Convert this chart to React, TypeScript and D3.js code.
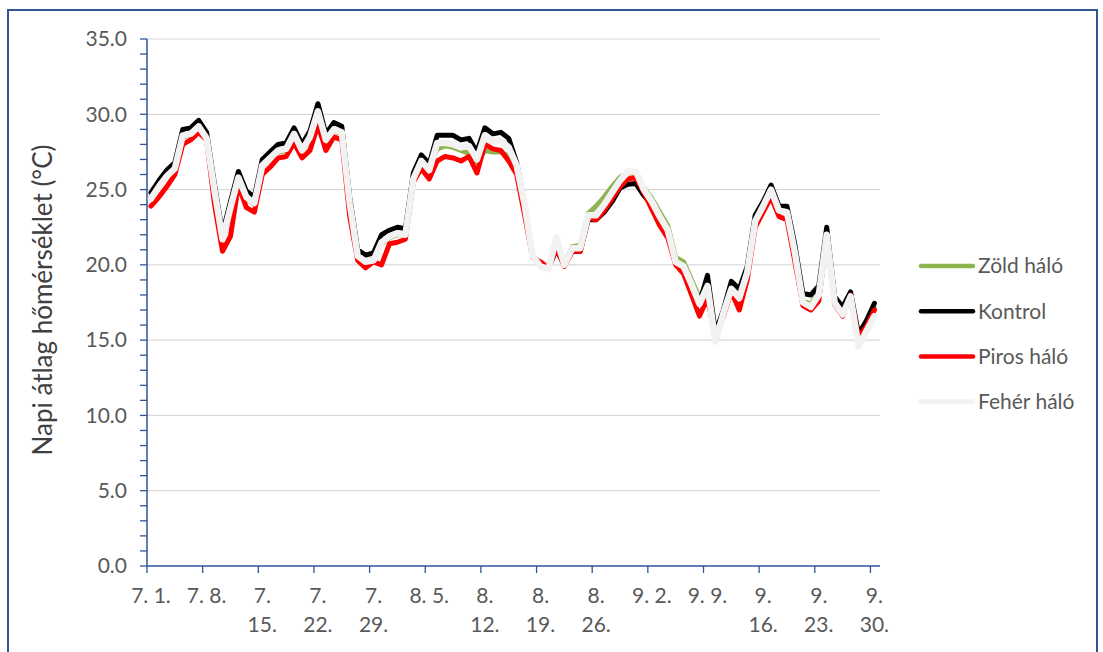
import React from "react";
import * as d3 from "d3";

const tickLabels: string[][] = [
  ["7. 1."], ["7. 8."], ["7.", "15."], ["7.", "22."], ["7.", "29."], ["8. 5."], ["8.", "12."],
  ["8.", "19."], ["8.", "26."], ["9. 2."], ["9. 9."], ["9.", "16."], ["9.", "23."], ["9.", "30."],
];
const tickDays: number[] = [0, 7, 14, 21, 28, 35, 42, 49, 56, 63, 70, 77, 84, 91];
const yTicks: number[] = [0, 5, 10, 15, 20, 25, 30, 35];

const kontrol: number[] = [
  24.8, 25.6, 26.3, 26.8, 29.0, 29.1, 29.6, 28.8, 25.3, 22.1,
  24.2, 26.2, 24.9, 24.5, 27.0, 27.5, 28.0, 28.1, 29.1, 28.0,
  28.9, 30.7, 28.7, 29.45, 29.2, 24.5, 21.0, 20.65, 20.8, 22.0,
  22.3, 22.5, 22.4, 26.1, 27.3, 26.7, 28.6, 28.6, 28.6, 28.3,
  28.4, 27.5, 29.1, 28.7, 28.8, 28.4, 26.8, 24.0, 20.6, 20.0,
  19.8, 21.0, 20.0, 20.9, 20.9, 23.0, 23.0, 23.5, 24.2, 25.1,
  25.35, 25.4, 24.6, 24.0, 23.0, 22.0, 20.2, 19.8, 18.6, 17.5,
  19.3, 15.5, 17.0, 18.9, 18.4, 19.9, 23.3, 24.2, 25.3, 23.9,
  23.9, 21.3, 18.1, 18.0, 18.6, 22.5, 17.9, 17.2, 18.2, 15.4,
  16.3, 17.45,
];

const piros: number[] = [
  23.9, 24.5, 25.2, 26.0, 28.0, 28.3, 28.8, 28.3, 24.0, 20.9,
  21.9, 25.3, 23.8, 23.5, 26.0, 26.5, 27.1, 27.2, 28.1, 27.1,
  27.6, 29.3, 27.6, 28.5, 28.3, 23.2, 20.3, 19.8, 20.2, 20.0,
  21.4, 21.5, 21.7, 25.5, 26.4, 25.7, 26.9, 27.2, 27.1, 26.9,
  27.2, 26.1, 28.0, 27.7, 27.6, 26.9, 26.0, 23.3, 20.5, 20.2,
  19.8, 21.1, 19.9, 20.9, 20.9, 23.1, 23.0, 23.6, 24.4, 25.2,
  25.7, 25.8, 24.8, 23.7, 22.6, 21.8, 20.0, 19.4, 18.0, 16.6,
  17.8, 15.3, 16.6, 18.2, 17.0, 19.0, 22.5, 23.5, 24.5, 23.2,
  23.0, 20.2, 17.3, 17.0, 17.6, 21.9, 17.4, 16.6, 18.0, 15.2,
  15.9, 17.0,
];

const feher: number[] = [
  24.4, 25.2, 25.9, 26.4, 28.6, 28.7, 29.2, 28.4, 24.9, 21.7,
  23.8, 25.8, 24.5, 24.1, 26.6, 27.1, 27.6, 27.7, 28.7, 27.6,
  28.5, 30.2, 28.3, 29.0, 28.8, 24.1, 20.6, 20.2, 20.3, 21.5,
  21.9, 22.1, 22.0, 25.7, 26.9, 26.3, 28.1, 28.1, 28.0, 27.8,
  27.9, 27.0, 28.6, 28.2, 28.3, 27.8, 26.6, 24.0, 20.6, 19.9,
  19.7, 21.8, 20.0, 21.1, 21.1, 23.3, 23.3, 24.0, 24.8, 25.6,
  26.2, 26.2, 25.0, 24.2, 23.2, 22.3, 20.2, 19.9, 18.7, 17.4,
  18.6, 14.9, 16.8, 18.4, 17.8, 19.5, 22.9, 23.9, 25.0, 23.6,
  23.5, 20.8, 17.5, 17.2, 18.0, 22.0, 17.5, 16.7, 17.9, 14.6,
  15.6, 16.6,
];

const zold: number[] = [
  24.5, 25.2, 25.9, 26.4, 28.5, 28.6, 29.1, 28.4, 24.8, 21.6,
  23.6, 25.7, 24.4, 24.0, 26.5, 27.1, 27.5, 27.6, 28.6, 27.5,
  28.4, 30.1, 28.2, 28.9, 28.7, 24.0, 20.6, 20.2, 20.4, 21.4,
  21.8, 22.0, 22.0, 25.8, 26.9, 26.6, 27.7, 27.9, 27.8, 27.6,
  27.4, 26.8, 27.6, 27.5, 27.5, 27.2, 26.3, 23.8, 20.6, 20.0,
  19.8, 21.5, 20.1, 21.2, 21.3, 23.4, 23.9, 24.5, 25.2, 25.8,
  26.1, 26.1, 25.1, 24.4, 23.5, 22.6, 20.5, 20.2, 19.0, 17.8,
  18.8, 15.2, 16.9, 18.5, 17.8, 19.7, 23.0, 24.0, 25.1, 23.5,
  23.6, 21.0, 17.6, 17.4, 18.2, 22.1, 17.6, 16.9, 18.0, 14.8,
  15.7, 17.1,
];

const seriesNames = ["Zöld háló", "Kontrol", "Piros háló", "Fehér háló"];
const seriesColors = ["#8DB451", "#000000", "#FF0000", "#F2F2F2"];
const seriesData = [zold, kontrol, piros, feher];
const seriesWidths = [5, 5, 5, 6.5];

const W = 1103;
const H = 652;
const FONT = "Lato, 'Open Sans', sans-serif";
const AXIS = "#2F5597";
const TEXT = "#595959";

export default function App() {
  const x = d3.scaleLinear().domain([0, 92]).range([147, 878.4]);
  const y = d3.scaleLinear().domain([0, 35]).range([566, 39]);
  const line = d3
    .line<number>()
    .x((_, i) => x(i + 0.5))
    .y((v) => y(v));
  const minor = d3.range(0, 36, 1);

  return (
    <svg
      width={W}
      height={H}
      style={{ position: "absolute", left: 0, top: 0, background: "#fff" }}
      fontFamily={FONT}
    >
      <rect x={8} y={10} width={1089} height={670} fill="#fff" stroke="#2F5597" strokeWidth={2} />
      {yTicks.slice(1).map((t) => (
        <line key={"g" + t} x1={147} x2={880} y1={y(t)} y2={y(t)} stroke="#D9D9D9" strokeWidth={1.2} />
      ))}
      {minor.map((t) => (
        <line key={"m" + t} x1={140} x2={147} y1={y(t)} y2={y(t)} stroke={AXIS} strokeWidth={1.3} />
      ))}
      <line x1={147} x2={147} y1={y(35)} y2={y(0)} stroke={AXIS} strokeWidth={1.5} />
      <line x1={147} x2={880} y1={y(0)} y2={y(0)} stroke={AXIS} strokeWidth={1.5} />
      {tickDays.map((d) => (
        <line key={"xt" + d} x1={x(d)} x2={x(d)} y1={566} y2={573} stroke={AXIS} strokeWidth={1.3} />
      ))}
      {yTicks.map((t) => (
        <text key={"yl" + t} x={127} y={y(t)} dy="0.35em" textAnchor="end" fontSize={21} fill={TEXT}>
          {t.toFixed(1)}
        </text>
      ))}
      {tickDays.map((d, i) => (
        <text key={"xl" + d} x={x(d + 0.5)} y={603} textAnchor="middle" fontSize={21} fill={TEXT}>
          {tickLabels[i].map((s, j) => (
            <tspan key={j} x={x(d + 0.5)} dy={j === 0 ? 0 : 29}>
              {s}
            </tspan>
          ))}
        </text>
      ))}
      <text
        transform="translate(52,300) rotate(-90)"
        textAnchor="middle"
        fontSize={26}
        fill="#404040"
      >
        Napi átlag hőmérséklet (°C)
      </text>
      {seriesData.map((s, i) => (
        <path
          key={"s" + i}
          d={line(s) || ""}
          fill="none"
          stroke={seriesColors[i]}
          strokeWidth={seriesWidths[i]}
          strokeLinejoin="round"
          strokeLinecap="round"
        />
      ))}
      {seriesNames.map((n, i) => {
        const cy = 266 + i * 45.2;
        return (
          <g key={"lg" + i}>
            <line x1={921} x2={973} y1={cy} y2={cy} stroke={seriesColors[i]} strokeWidth={4.5} strokeLinecap="round" />
            <text x={978} y={cy} dy="0.35em" fontSize={21} fill={TEXT}>
              {n}
            </text>
          </g>
        );
      })}
    </svg>
  );
}
